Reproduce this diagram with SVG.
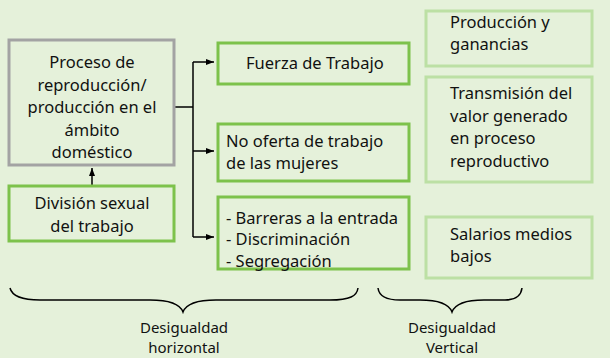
<svg xmlns="http://www.w3.org/2000/svg" width="610" height="358" viewBox="0 0 610 358">
<style>
text{font-family:"Noto Sans","Open Sans",sans-serif;font-size:16.5px;fill:#111}
.c{text-anchor:middle}
.b{font-size:15px}
.g{fill:none;stroke:#7DC24B;stroke-width:3}
.lg{fill:none;stroke:#BCE0A4;stroke-width:3}
.gr{fill:none;stroke:#A3A3A3;stroke-width:3}
.ln{fill:none;stroke:#000;stroke-width:1.5}
</style>
<defs>
<marker id="ah" viewBox="0 0 8 8" refX="8" refY="4" markerWidth="8" markerHeight="8" markerUnits="userSpaceOnUse" orient="auto">
<path d="M0,1 L8,4 L0,7 Z" fill="#000"/>
</marker>
</defs>
<rect width="610" height="358" fill="#E5F1DA"/>
<g id="connectors">
<path class="ln" d="M175,107 H193"/>
<path class="ln" d="M193,62 V237"/>
<path class="ln" d="M193,62 H214" marker-end="url(#ah)"/>
<path class="ln" d="M193,151 H214" marker-end="url(#ah)"/>
<path class="ln" d="M193,237 H214" marker-end="url(#ah)"/>
<path class="ln" d="M92,186 V168" marker-end="url(#ah)"/>
<path class="ln" d="M10,288 C12,296 22,300 40,300 L150,300 C170,300 180,304 183,312 C186,304 196,300 216,300 L330,300 C350,300 357,296 358,288"/>
<path class="ln" d="M378,288 C379,296 386,300 400,300 L420,300 C440,300 449,304 452,312 C455,304 464,300 484,300 L505,300 C515,300 521,296 522,288"/>
</g>
<g id="proceso">
<rect class="gr" x="9" y="40" width="165" height="125"/>
<text class="c" x="92" y="68">Proceso de</text>
<text class="c" x="92" y="91">reproducción/</text>
<text class="c" x="92" y="113">producción en el</text>
<text class="c" x="92" y="136">ámbito</text>
<text class="c" x="92" y="158">doméstico</text>
</g>
<g id="division">
<rect class="g" x="9" y="186" width="165" height="55"/>
<text class="c" x="92" y="209">División sexual</text>
<text class="c" x="92" y="232">del trabajo</text>
</g>
<g id="fuerza">
<rect class="g" x="218" y="43" width="191" height="41"/>
<text x="246" y="69">Fuerza de Trabajo</text>
</g>
<g id="nooferta">
<rect class="g" x="218" y="124" width="191" height="57"/>
<text x="226" y="147">No oferta de trabajo</text>
<text x="226" y="169">de las mujeres</text>
</g>
<g id="barreras">
<rect class="g" x="218" y="197" width="191" height="72"/>
<text x="226" y="224">- Barreras a la entrada</text>
<text x="226" y="245">- Discriminación</text>
<text x="226" y="267">- Segregación</text>
</g>
<g id="produccion">
<rect class="lg" x="426" y="11" width="166" height="55"/>
<text x="450" y="28">Producción y</text>
<text x="450" y="50">ganancias</text>
</g>
<g id="transmision">
<rect class="lg" x="426" y="77" width="166" height="105"/>
<text x="450" y="99">Transmisión del</text>
<text x="450" y="122">valor  generado</text>
<text x="450" y="144">en proceso</text>
<text x="450" y="167">reproductivo</text>
</g>
<g id="salarios">
<rect class="lg" x="426" y="217" width="166" height="61"/>
<text x="450" y="240">Salarios medios</text>
<text x="450" y="262">bajos</text>
</g>
<g id="labels">
<text class="c b" x="184" y="333">Desigualdad</text>
<text class="c b" x="184" y="353">horizontal</text>
<text class="c b" x="452" y="333">Desigualdad</text>
<text class="c b" x="452" y="353">Vertical</text>
</g>
</svg>
